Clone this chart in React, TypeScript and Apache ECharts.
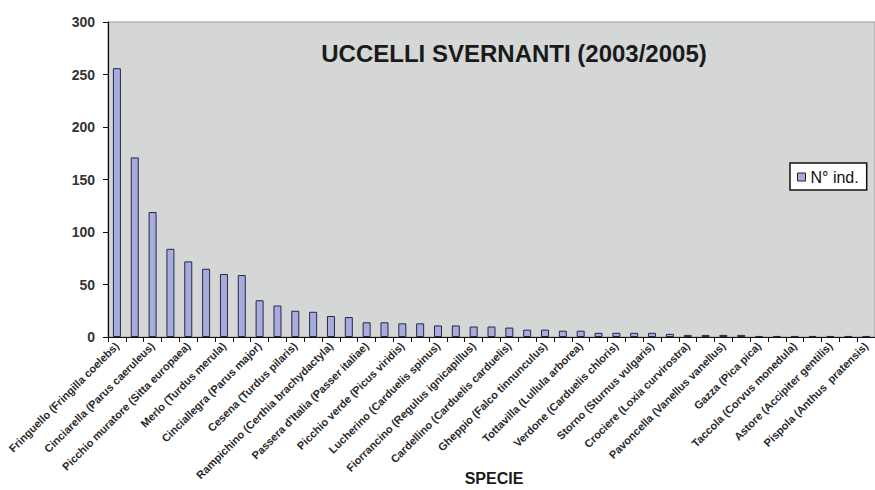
import React, { useEffect, useRef } from "react";
import * as echarts from "echarts";

const species: string[] = [
  "Fringuello (Fringilla coelebs)", "",
  "Cinciarella (Parus caeruleus)", "",
  "Picchio muratore (Sitta europaea)", "",
  "Merlo (Turdus merula)", "",
  "Cinciallegra (Parus major)", "",
  "Cesena (Turdus pilaris)", "",
  "Rampichino (Certhia brachydactyla)", "",
  "Passera d'Italia (Passer italiae)", "",
  "Picchio verde (Picus viridis)", "",
  "Lucherino (Carduelis spinus)", "",
  "Fiorrancino (Regulus ignicapillus)", "",
  "Cardellino (Carduelis carduelis)", "",
  "Gheppio (Falco tinnunculus)", "",
  "Tottavilla (Lullula arborea)", "",
  "Verdone (Carduelis chloris)", "",
  "Storno (Sturnus vulgaris)", "",
  "Crociere (Loxia curvirostra)", "",
  "Pavoncella (Vanellus vanellus)", "",
  "Gazza (Pica pica)", "",
  "Taccola (Corvus monedula)", "",
  "Astore (Accipiter gentilis)", "",
  "Pispola (Anthus  pratensis)",
];

const individuals: number[] = [
  256, 171, 119, 84, 72, 65, 60, 59, 35, 30,
  25, 24, 20, 19, 14, 14, 13, 13, 11, 11,
  10, 10, 9, 7, 7, 6, 6, 4, 4, 4,
  4, 3, 2, 2, 2, 2, 1, 1, 1, 1,
  1, 1, 1,
];

const yTicks = { min: 0, max: 300, interval: 50 };
const seriesName = "N° ind.";
const chartTitle = "UCCELLI SVERNANTI (2003/2005)";
const xTitle = "SPECIE";

export default function App() {
  const ref = useRef<HTMLDivElement>(null);
  useEffect(() => {
    document.body.style.margin = "0";
    const chart = echarts.init(ref.current!, null, { renderer: "svg" });
    chart.setOption({
      animation: false,
      backgroundColor: "#ffffff",
      grid: {
        left: 108,
        top: 22,
        width: 770,
        bottom: 153,
        show: true,
        backgroundColor: "#d4d7d6",
        borderColor: "#9a9c9b",
        borderWidth: 1,
      },
      legend: {
        left: 790,
        top: 163,
        orient: "vertical",
        backgroundColor: "#ffffff",
        borderColor: "#111111",
        borderWidth: 1.5,
        borderRadius: 0,
        padding: [6, 8, 5, 7],
        itemWidth: 8,
        itemHeight: 8,
        itemGap: 4,
        icon: "rect",
        itemStyle: { color: "#a7acdc", borderColor: "#222", borderWidth: 1 },
        textStyle: { fontFamily: "Arial, Liberation Sans", fontSize: 16, color: "#111" },
        data: [seriesName],
      },
      xAxis: {
        type: "category",
        data: species,
        boundaryGap: true,
        axisLine: { show: true, lineStyle: { color: "#111", width: 1.2 } },
        axisTick: { show: true, alignWithLabel: false, interval: 0, length: 5, lineStyle: { color: "#111" } },
        axisLabel: {
          interval: 1,
          rotate: 45,
          margin: 7,
          fontFamily: "Arial, Liberation Sans",
          fontSize: 11,
          fontWeight: "bold",
          color: "#2a2a2a",
        },
        splitLine: { show: false },
      },
      yAxis: {
        type: "value",
        min: yTicks.min,
        max: yTicks.max,
        interval: yTicks.interval,
        axisLine: { show: true, lineStyle: { color: "#111", width: 1.2 } },
        axisTick: { show: true, length: 5, lineStyle: { color: "#111" } },
        axisLabel: {
          margin: 13,
          fontFamily: "Arial, Liberation Sans",
          fontSize: 14,
          fontWeight: "bold",
          color: "#333333",
        },
        splitLine: { show: false },
      },
      series: [
        {
          name: seriesName,
          type: "bar",
          data: individuals,
          barWidth: 8,
          itemStyle: { color: "#a7acdc", borderColor: "#24264a", borderWidth: 1 },
        },
      ],
      graphic: [
        {
          type: "text",
          x: 514,
          y: 53,
          style: {
            text: chartTitle,
            textAlign: "center",
            textVerticalAlign: "middle",
            font: "bold 24px Arial, Liberation Sans",
            fill: "#1a1a1a",
          },
        },
        {
          type: "text",
          x: 494,
          y: 478,
          style: {
            text: xTitle,
            textAlign: "center",
            textVerticalAlign: "middle",
            font: "bold 16px Arial, Liberation Sans",
            fill: "#1a1a1a",
          },
        },
      ],
    });
    return () => chart.dispose();
  }, []);
  return <div ref={ref} style={{ width: 875, height: 490 }} />;
}
